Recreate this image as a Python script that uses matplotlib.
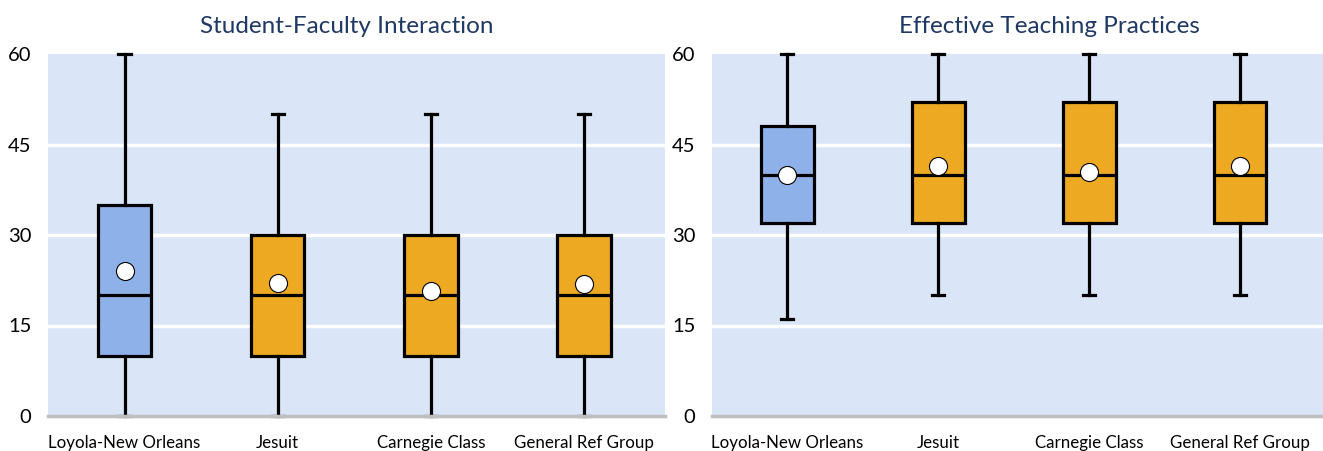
import matplotlib
matplotlib.use("Agg")
import matplotlib.pyplot as plt

plt.rcParams['font.family'] = ['Lato', 'DejaVu Sans']

groups = ["Loyola-New Orleans", "Jesuit", "Carnegie Class", "General Ref Group"]

# Student-Faculty Interaction
sfi_low = [0, 0, 0, 0]
sfi_q1 = [10, 10, 10, 10]
sfi_med = [20, 20, 20, 20]
sfi_q3 = [35, 30, 30, 30]
sfi_high = [60, 50, 50, 50]
sfi_mean = [24.0, 22.1, 20.8, 21.8]

# Effective Teaching Practices
etp_low = [16, 20, 20, 20]
etp_q1 = [32, 32, 32, 32]
etp_med = [40, 40, 40, 40]
etp_q3 = [48, 52, 52, 52]
etp_high = [60, 60, 60, 60]
etp_mean = [40.0, 41.5, 40.5, 41.5]

box_colors = ["#8EB1EA", "#EDA922", "#EDA922", "#EDA922"]
bg = "#DAE6F7"


def draw(ax, title, low, q1, med, q3, high, mean, xmax, title_x):
    stats = []
    for i in range(len(groups)):
        stats.append(dict(whislo=low[i], q1=q1[i], med=med[i], q3=q3[i],
                          whishi=high[i], mean=mean[i], fliers=[],
                          label=groups[i]))
    ax.set_facecolor(bg)
    ax.set_axisbelow(True)
    for y in [15, 30, 45]:
        ax.axhline(y, color="white", lw=2.5, zorder=0)
    bp = ax.bxp(stats, positions=range(len(groups)), widths=0.35,
                showmeans=True, patch_artist=True,
                boxprops=dict(lw=2.3, edgecolor="black"),
                medianprops=dict(color="black", lw=2.3),
                whiskerprops=dict(lw=2.3, color="black"),
                capprops=dict(lw=2.3, color="black"),
                capwidths=0.08,
                meanprops=dict(marker="o", markerfacecolor="white",
                               markeredgecolor="black", markersize=13,
                               markeredgewidth=0.8))
    for patch, c in zip(bp["boxes"], box_colors):
        patch.set_facecolor(c)
    for item in bp["whiskers"] + bp["caps"] + bp["boxes"] + bp["medians"] + bp["means"]:
        item.set_clip_on(False)
    ax.axhline(0, color="#BFBFBF", lw=2.5, zorder=6, clip_on=False)
    ax.set_ylim(0, 60)
    ax.set_xlim(-0.5, xmax)
    ax.set_yticks([0, 15, 30, 45, 60])
    ax.set_xticks(range(len(groups)))
    ax.set_xticklabels(groups, fontsize=12.2)
    ax.tick_params(axis="y", labelsize=14.5, length=0, pad=12)
    ax.tick_params(axis="x", length=0, pad=13.5)
    for s in ax.spines.values():
        s.set_visible(False)
    ax.set_title(title, fontsize=17.5, color="#1F3864", pad=15, x=title_x)


fig = plt.figure(figsize=(13.23, 4.51), dpi=100)
ax1 = fig.add_axes([48 / 1323, 35 / 451, 617 / 1323, 362 / 451])
ax2 = fig.add_axes([712 / 1323, 35 / 451, 611 / 1323, 362 / 451])

draw(ax1, "Student-Faculty Interaction", sfi_low, sfi_q1, sfi_med, sfi_q3,
     sfi_high, sfi_mean, 3.53, 0.485)
draw(ax2, "Effective Teaching Practices", etp_low, etp_q1, etp_med, etp_q3,
     etp_high, etp_mean, 3.55, 0.553)

fig.savefig("out.png", dpi=100)
